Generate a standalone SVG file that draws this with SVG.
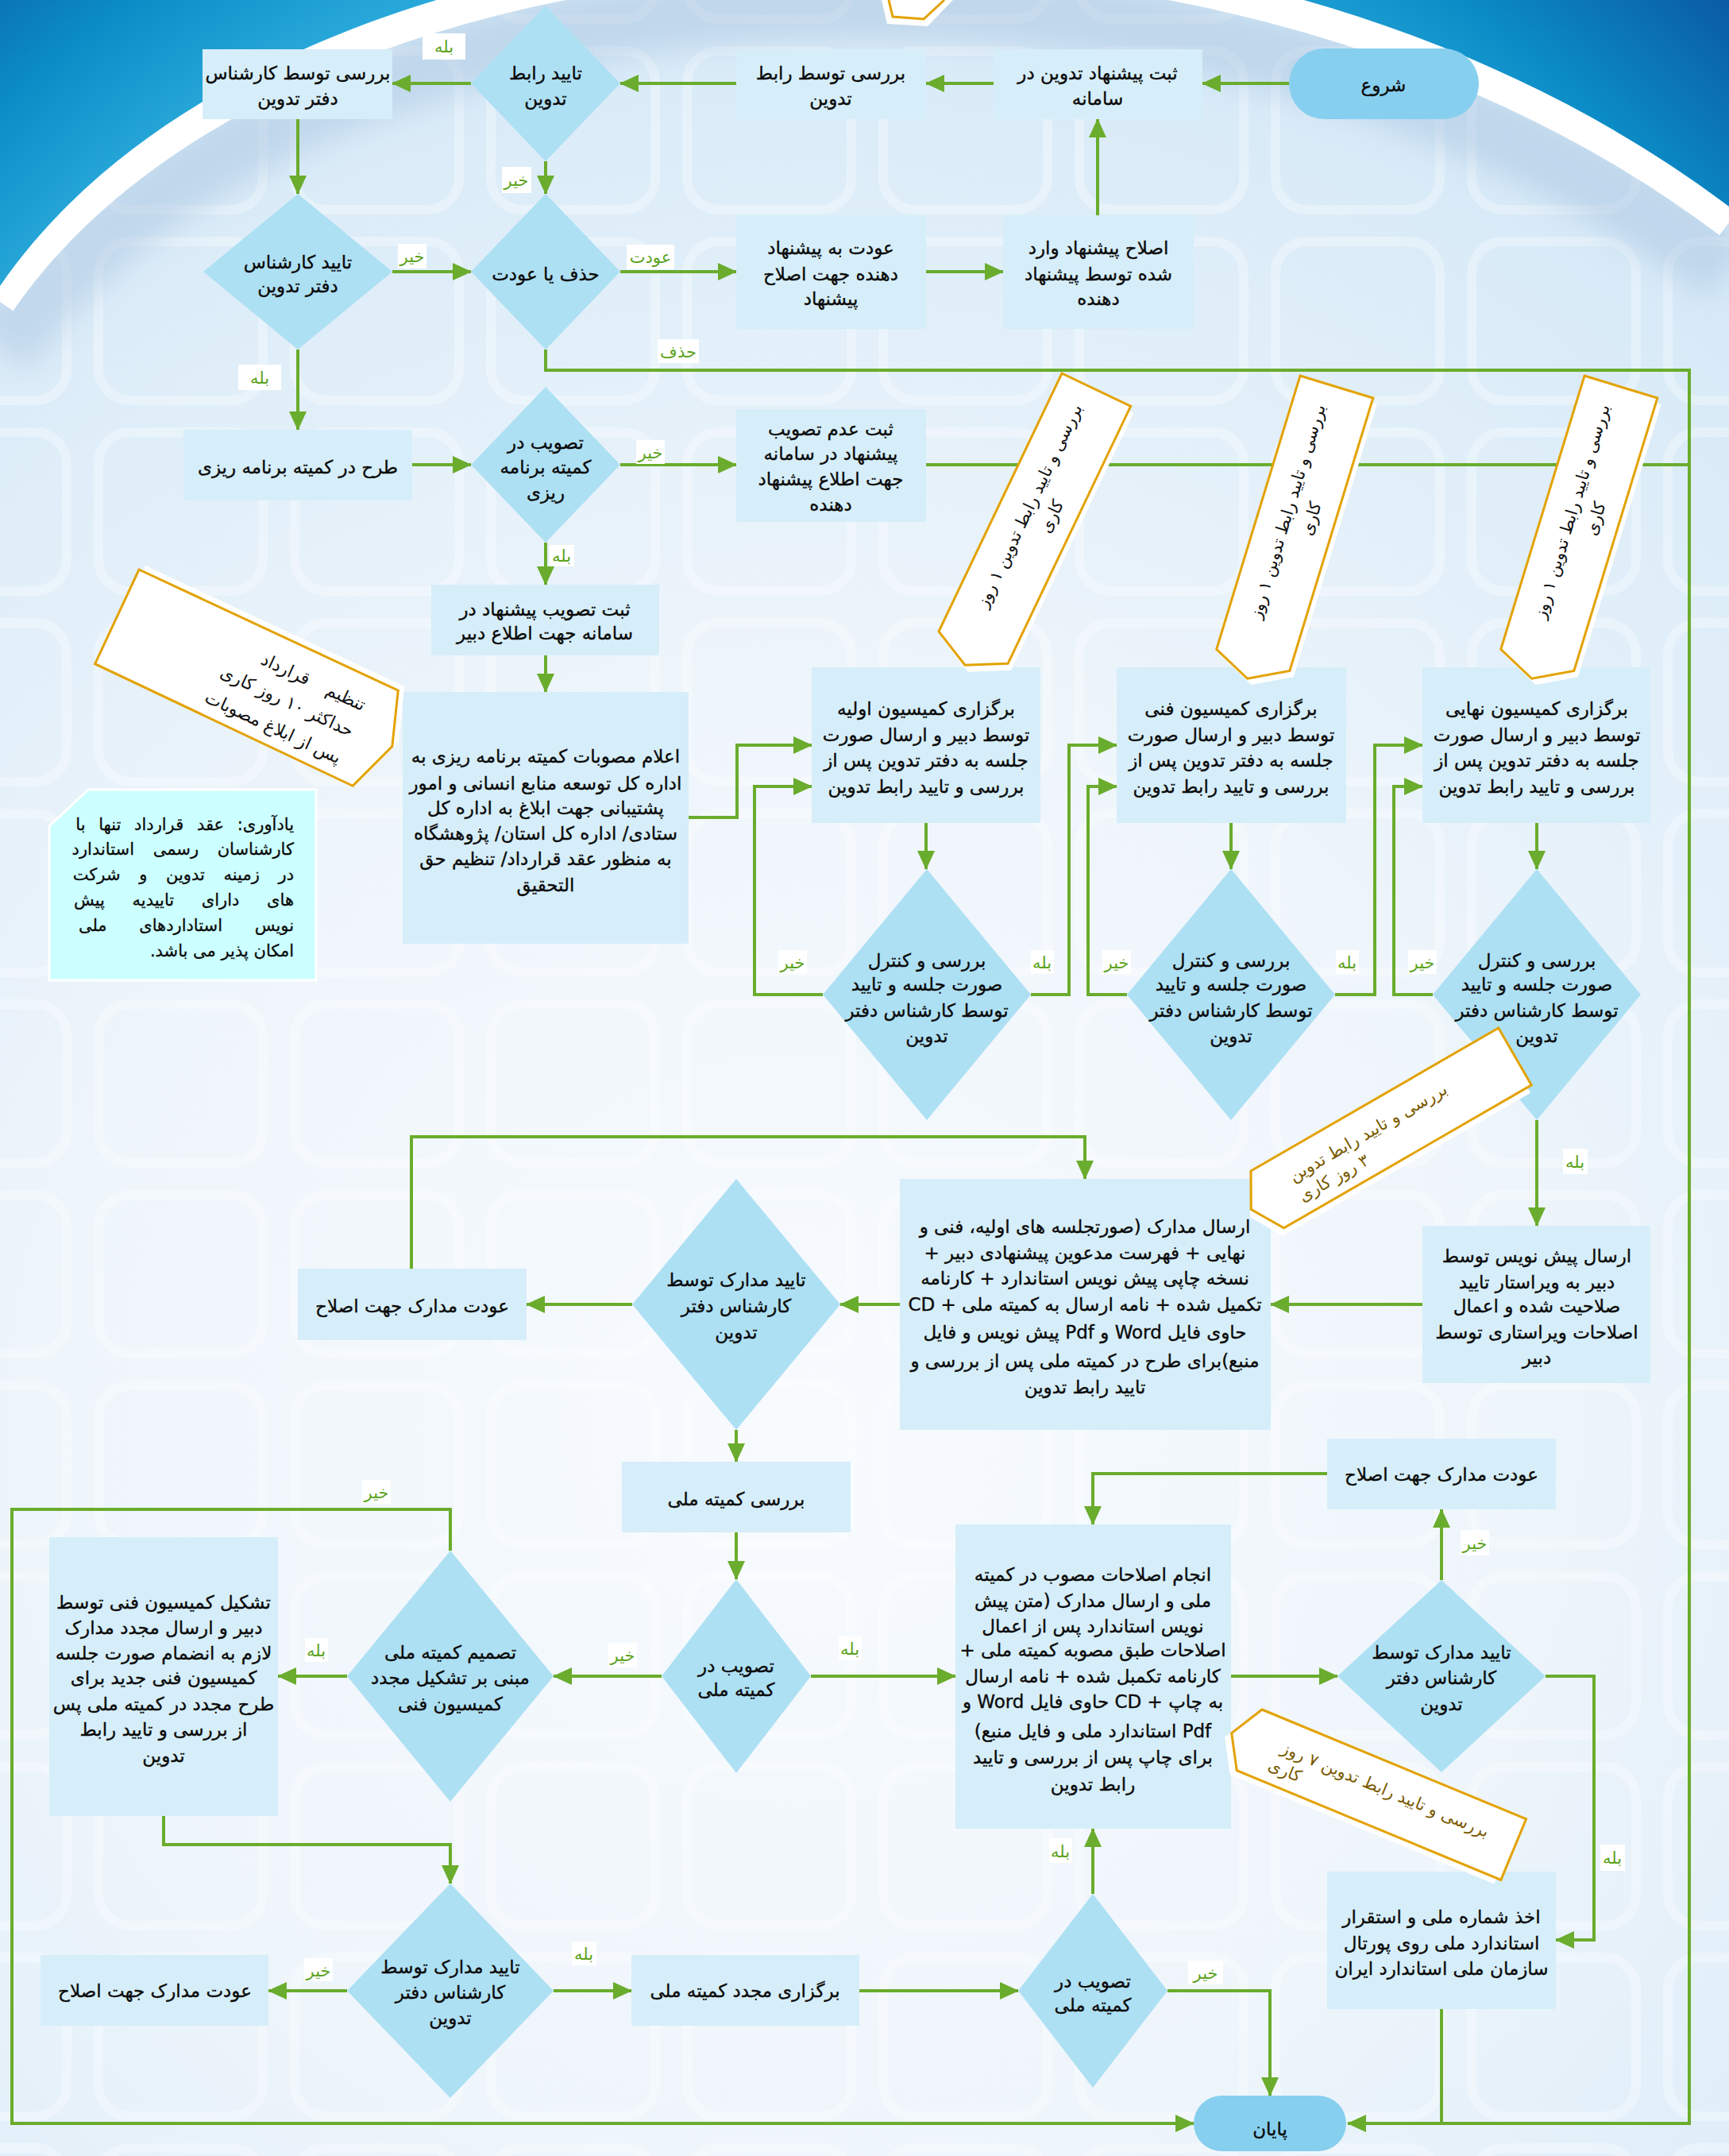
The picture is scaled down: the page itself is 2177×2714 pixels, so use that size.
<svg xmlns="http://www.w3.org/2000/svg" width="2177" height="2714" viewBox="0 0 2177 2714">
<defs>
<style>
.box{fill:#d6eef9}
.dia{fill:#aee0f4}
.pill{fill:#87cfef}
.t{font-family:"DejaVu Sans",sans-serif;font-size:23px;fill:#0a0a0a;stroke:#0a0a0a;stroke-width:0.35;text-anchor:middle;direction:rtl}
.tr{font-family:"DejaVu Sans",sans-serif;font-size:21px;fill:#0a0a0a;stroke:#0a0a0a;stroke-width:0.3;text-anchor:start;direction:rtl}
.conn{fill:none;stroke:#6aac2d;stroke-width:4}
.lb{fill:#ffffff}
.lt{font-family:"DejaVu Sans",sans-serif;font-size:21px;fill:#5aa21c;text-anchor:middle;direction:rtl}
.note{fill:#ffffff;stroke:#e3a202;stroke-width:3}
.shadow{fill:#ffffff}
.nt{font-family:"DejaVu Sans",sans-serif;font-size:21px;fill:#111;text-anchor:middle;direction:rtl}
.ng{font-family:"DejaVu Sans",sans-serif;font-size:21px;fill:#7a5a00;text-anchor:middle;direction:rtl}
.nr{font-family:"DejaVu Sans",sans-serif;font-size:22px;fill:#111;text-anchor:start;direction:rtl}
</style>
<radialGradient id="bgG" cx="1000" cy="1800" r="1900" gradientUnits="userSpaceOnUse">
<stop offset="0" stop-color="#f8fbfe"/>
<stop offset="0.5" stop-color="#eef5fb"/>
<stop offset="1" stop-color="#d5e9f7"/>
</radialGradient>
<radialGradient id="blueG" cx="1000" cy="1200" r="1700" gradientUnits="userSpaceOnUse">
<stop offset="0.75" stop-color="#2aaadb"/>
<stop offset="0.86" stop-color="#0b8cc6"/>
<stop offset="1" stop-color="#0a56a2"/>
</radialGradient>
<pattern id="grid" x="104" y="44" width="247" height="240" patternUnits="userSpaceOnUse">
<rect x="20" y="20" width="207" height="200" rx="40" fill="none" stroke="#ffffff" stroke-width="12" opacity="0.3"/>
</pattern>
<filter id="blur" x="-0.2" y="-0.5" width="1.4" height="2"><feGaussianBlur stdDeviation="18"/></filter>
<marker id="ah" viewBox="0 0 24 22" refX="23" refY="11" markerWidth="24" markerHeight="22" markerUnits="userSpaceOnUse" orient="auto"><path d="M0,0 L24,11 L0,22 Z" fill="#6aac2d"/></marker>
</defs>

<g id="background">
<rect x="0" y="0" width="2177" height="2714" fill="url(#bgG)"/>
<rect x="0" y="0" width="2177" height="2714" fill="url(#grid)"/>
<path d="M0,360 C350,-150 1500,-250 2177,260" transform="translate(0,80)" fill="none" stroke="#a9c4e0" stroke-width="90" opacity="0.5" filter="url(#blur)"/>
<path d="M0,360 C350,-150 1500,-250 2177,260" transform="translate(0,20)" fill="none" stroke="#ffffff" stroke-width="40"/>
<path d="M0,0 L0,360 C350,-150 1500,-250 2177,260 L2177,0 Z" fill="url(#blueG)"/>
</g>

<g id="connectors" class="conn">
<path d="M1623,105 H1514" marker-end="url(#ah)"/>
<path d="M1251,105 H1166" marker-end="url(#ah)"/>
<path d="M927,105 H781" marker-end="url(#ah)"/>
<path d="M593,105 H494" marker-end="url(#ah)"/>
<path d="M687,203 V244" marker-end="url(#ah)"/>
<path d="M375,150 V244" marker-end="url(#ah)"/>
<path d="M494,342 H593" marker-end="url(#ah)"/>
<path d="M781,342 H927" marker-end="url(#ah)"/>
<path d="M1166,342 H1263" marker-end="url(#ah)"/>
<path d="M1382,271 V150" marker-end="url(#ah)"/>
<path d="M687,440 V466 H2127 V2673 H1697" marker-end="url(#ah)"/>
<path d="M375,440 V541" marker-end="url(#ah)"/>
<path d="M519,585 H593" marker-end="url(#ah)"/>
<path d="M781,585 H927" marker-end="url(#ah)"/>
<path d="M1166,585 H2127"/>
<path d="M687,683 V736" marker-end="url(#ah)"/>
<path d="M687,825 V871" marker-end="url(#ah)"/>
<path d="M867,1029 H928 V938 H1022" marker-end="url(#ah)"/>
<path d="M1166,1036 V1094" marker-end="url(#ah)"/>
<path d="M1036,1252 H950 V990 H1022" marker-end="url(#ah)"/>
<path d="M1298,1252 H1346 V938 H1406" marker-end="url(#ah)"/>
<path d="M1550,1036 V1094" marker-end="url(#ah)"/>
<path d="M1419,1252 H1370 V990 H1406" marker-end="url(#ah)"/>
<path d="M1681,1252 H1731 V938 H1791" marker-end="url(#ah)"/>
<path d="M1935,1036 V1094" marker-end="url(#ah)"/>
<path d="M1804,1252 H1755 V990 H1791" marker-end="url(#ah)"/>
<path d="M1935,1410 V1543" marker-end="url(#ah)"/>
<path d="M1791,1642 H1600" marker-end="url(#ah)"/>
<path d="M1133,1642 H1058" marker-end="url(#ah)"/>
<path d="M796,1642 H663" marker-end="url(#ah)"/>
<path d="M518,1597 V1431 H1366 V1484" marker-end="url(#ah)"/>
<path d="M927,1800 V1840" marker-end="url(#ah)"/>
<path d="M927,1929 V1988" marker-end="url(#ah)"/>
<path d="M833,2110 H697" marker-end="url(#ah)"/>
<path d="M1021,2110 H1203" marker-end="url(#ah)"/>
<path d="M437,2110 H350" marker-end="url(#ah)"/>
<path d="M567,1952 V1900 H15 V2673 H1503" marker-end="url(#ah)"/>
<path d="M206,2286 V2322 H567 V2371" marker-end="url(#ah)"/>
<path d="M437,2506 H338" marker-end="url(#ah)"/>
<path d="M697,2506 H795" marker-end="url(#ah)"/>
<path d="M1082,2506 H1282" marker-end="url(#ah)"/>
<path d="M1376,2384 V2302" marker-end="url(#ah)"/>
<path d="M1470,2506 H1599 V2638" marker-end="url(#ah)"/>
<path d="M1550,2110 H1684" marker-end="url(#ah)"/>
<path d="M1815,1989 V1900" marker-end="url(#ah)"/>
<path d="M1946,2110 H2007 V2442 H1959" marker-end="url(#ah)"/>
<path d="M1815,2529 V2673"/>
<path d="M1671,1855 H1376 V1919" marker-end="url(#ah)"/>
</g>

<g id="labels">
<rect class="lb" x="532" y="42" width="54" height="33"/><text class="lt" x="559" y="66">بله</text>
<rect class="lb" x="632" y="210" width="37" height="33"/><text class="lt" x="650" y="234">خیر</text>
<rect class="lb" x="501" y="307" width="36" height="31"/><text class="lt" x="519" y="330">خیر</text>
<rect class="lb" x="789" y="308" width="60" height="31"/><text class="lt" x="819" y="331">عودت</text>
<rect class="lb" x="828" y="427" width="52" height="30"/><text class="lt" x="854" y="450">حذف</text>
<rect class="lb" x="300" y="459" width="54" height="32"/><text class="lt" x="327" y="483">بله</text>
<rect class="lb" x="801" y="554" width="36" height="30"/><text class="lt" x="819" y="577">خیر</text>
<rect class="lb" x="692" y="686" width="31" height="27"/><text class="lt" x="707" y="707">بله</text>
<rect class="lb" x="980" y="1196" width="36" height="30"/><text class="lt" x="998" y="1219">خیر</text>
<rect class="lb" x="1298" y="1196" width="29" height="30"/><text class="lt" x="1312" y="1219">بله</text>
<rect class="lb" x="1388" y="1196" width="36" height="30"/><text class="lt" x="1406" y="1219">خیر</text>
<rect class="lb" x="1682" y="1196" width="29" height="30"/><text class="lt" x="1696" y="1219">بله</text>
<rect class="lb" x="1773" y="1196" width="36" height="30"/><text class="lt" x="1791" y="1219">خیر</text>
<rect class="lb" x="1968" y="1446" width="31" height="32"/><text class="lt" x="1983" y="1470">بله</text>
<rect class="lb" x="456" y="1863" width="36" height="30"/><text class="lt" x="474" y="1886">خیر</text>
<rect class="lb" x="384" y="2062" width="29" height="30"/><text class="lt" x="398" y="2085">بله</text>
<rect class="lb" x="766" y="2068" width="36" height="31"/><text class="lt" x="784" y="2091">خیر</text>
<rect class="lb" x="1056" y="2060" width="29" height="30"/><text class="lt" x="1070" y="2083">بله</text>
<rect class="lb" x="1839" y="1926" width="36" height="32"/><text class="lt" x="1857" y="1950">خیر</text>
<rect class="lb" x="2015" y="2322" width="31" height="33"/><text class="lt" x="2030" y="2346">بله</text>
<rect class="lb" x="383" y="2465" width="36" height="29"/><text class="lt" x="401" y="2488">خیر</text>
<rect class="lb" x="720" y="2444" width="31" height="30"/><text class="lt" x="735" y="2467">بله</text>
<rect class="lb" x="1321" y="2314" width="29" height="31"/><text class="lt" x="1335" y="2338">بله</text>
<rect class="lb" x="1496" y="2468" width="44" height="30"/><text class="lt" x="1518" y="2491">خیر</text>
</g>

<g id="start"><rect class="pill" x="1623" y="61" width="239" height="89" rx="44.5"/><text class="t" x="1742" y="115">شروع</text></g>
<g id="n_sabt"><rect class="box" x="1251" y="62" width="263" height="88"/><text class="t" x="1382" y="100">ثبت پیشنهاد تدوین در</text><text class="t" x="1382" y="132">سامانه</text></g>
<g id="n_rabet"><rect class="box" x="927" y="62" width="239" height="88"/><text class="t" x="1046" y="100">بررسی توسط رابط</text><text class="t" x="1046" y="132">تدوین</text></g>
<g id="d_rabet"><polygon class="dia" points="687,7 781,105 687,203 593,105"/><text class="t" x="687" y="100">تایید رابط</text><text class="t" x="687" y="132">تدوین</text></g>
<g id="n_karshenas"><rect class="box" x="255" y="62" width="239" height="88"/><text class="t" x="375" y="100">بررسی توسط کارشناس</text><text class="t" x="375" y="132">دفتر تدوین</text></g>
<g id="d_karshenas"><polygon class="dia" points="375,244 494,342 375,440 256,342"/><text class="t" x="375" y="338">تایید کارشناس</text><text class="t" x="375" y="368">دفتر تدوین</text></g>
<g id="d_hazf"><polygon class="dia" points="687,244 781,342 687,440 593,342"/><text class="t" x="687" y="353">حذف یا عودت</text></g>
<g id="n_odat"><rect class="box" x="927" y="271" width="239" height="143"/><text class="t" x="1046" y="320">عودت به پیشنهاد</text><text class="t" x="1046" y="353">دهنده جهت اصلاح</text><text class="t" x="1046" y="384">پیشنهاد</text></g>
<g id="n_eslah"><rect class="box" x="1263" y="271" width="240" height="143"/><text class="t" x="1383" y="320">اصلاح پیشنهاد وارد</text><text class="t" x="1383" y="353">شده توسط پیشنهاد</text><text class="t" x="1383" y="384">دهنده</text></g>
<g id="n_tarh"><rect class="box" x="231" y="541" width="288" height="89"/><text class="t" x="375" y="596">طرح در کمیته برنامه ریزی</text></g>
<g id="d_tasvib_br"><polygon class="dia" points="687,487 781,585 687,683 593,585"/><text class="t" x="687" y="565">تصویب در</text><text class="t" x="687" y="596">کمیته برنامه</text><text class="t" x="687" y="628">ریزی</text></g>
<g id="n_adam"><rect class="box" x="927" y="515" width="239" height="142"/><text class="t" x="1046" y="548">ثبت عدم تصویب</text><text class="t" x="1046" y="579">پیشنهاد در سامانه</text><text class="t" x="1046" y="611">جهت اطلاع پیشنهاد</text><text class="t" x="1046" y="643">دهنده</text></g>
<g id="n_sabt_tasvib"><rect class="box" x="543" y="736" width="287" height="89"/><text class="t" x="686" y="775">ثبت تصویب پیشنهاد در</text><text class="t" x="686" y="805">سامانه جهت اطلاع دبیر</text></g>
<g id="n_elam"><rect class="box" x="507" y="871" width="360" height="317"/>
<text class="t" x="687" y="960">اعلام مصوبات کمیته برنامه ریزی به</text>
<text class="t" x="687" y="994">اداره کل توسعه منابع انسانی و امور</text>
<text class="t" x="687" y="1025">پشتیبانی جهت ابلاغ به اداره کل</text>
<text class="t" x="687" y="1057">ستادی/ اداره کل استان/ پژوهشگاه</text>
<text class="t" x="687" y="1089">به منظور عقد قرارداد/ تنظیم حق</text>
<text class="t" x="687" y="1122">التحقیق</text></g>
<g id="n_com1"><rect class="box" x="1022" y="840" width="288" height="196"/><text class="t" x="1166" y="900">برگزاری کمیسیون اولیه</text><text class="t" x="1166" y="933">توسط دبیر و ارسال صورت</text><text class="t" x="1166" y="965">جلسه به دفتر تدوین پس از</text><text class="t" x="1166" y="998">بررسی و تایید رابط تدوین</text></g>
<g id="n_com2"><rect class="box" x="1406" y="840" width="289" height="196"/><text class="t" x="1550" y="900">برگزاری کمیسیون فنی</text><text class="t" x="1550" y="933">توسط دبیر و ارسال صورت</text><text class="t" x="1550" y="965">جلسه به دفتر تدوین پس از</text><text class="t" x="1550" y="998">بررسی و تایید رابط تدوین</text></g>
<g id="n_com3"><rect class="box" x="1791" y="840" width="287" height="196"/><text class="t" x="1935" y="900">برگزاری کمیسیون نهایی</text><text class="t" x="1935" y="933">توسط دبیر و ارسال صورت</text><text class="t" x="1935" y="965">جلسه به دفتر تدوین پس از</text><text class="t" x="1935" y="998">بررسی و تایید رابط تدوین</text></g>
<g id="d_ctrl1"><polygon class="dia" points="1167,1094 1298,1252 1167,1410 1036,1252"/><text class="t" x="1167" y="1217">بررسی و کنترل</text><text class="t" x="1167" y="1247">صورت جلسه و تایید</text><text class="t" x="1167" y="1280">توسط کارشناس دفتر</text><text class="t" x="1167" y="1312">تدوین</text></g>
<g id="d_ctrl2"><polygon class="dia" points="1550,1094 1681,1252 1550,1410 1419,1252"/><text class="t" x="1550" y="1217">بررسی و کنترل</text><text class="t" x="1550" y="1247">صورت جلسه و تایید</text><text class="t" x="1550" y="1280">توسط کارشناس دفتر</text><text class="t" x="1550" y="1312">تدوین</text></g>
<g id="d_ctrl3"><polygon class="dia" points="1935,1094 2066,1252 1935,1410 1804,1252"/><text class="t" x="1935" y="1217">بررسی و کنترل</text><text class="t" x="1935" y="1247">صورت جلسه و تایید</text><text class="t" x="1935" y="1280">توسط کارشناس دفتر</text><text class="t" x="1935" y="1312">تدوین</text></g>
<g id="n_virast"><rect class="box" x="1791" y="1543" width="287" height="198"/><text class="t" x="1935" y="1589">ارسال پیش نویس توسط</text><text class="t" x="1935" y="1622">دبیر به ویراستار تایید</text><text class="t" x="1935" y="1652">صلاحیت شده و اعمال</text><text class="t" x="1935" y="1685">اصلاحات ویراستاری توسط</text><text class="t" x="1935" y="1717">دبیر</text></g>
<g id="n_madarek"><rect class="box" x="1133" y="1484" width="467" height="316"/>
<text class="t" x="1366" y="1552">ارسال مدارک (صورتجلسه های اولیه، فنی و</text>
<text class="t" x="1366" y="1585">نهایی + فهرست مدعوین پیشنهادی دبیر +</text>
<text class="t" x="1366" y="1617">نسخه چاپی پیش نویس استاندارد + کارنامه</text>
<text class="t" x="1366" y="1650">تکمیل شده + نامه ارسال به کمیته ملی + CD</text>
<text class="t" x="1366" y="1685">حاوی فایل Word و Pdf پیش نویس و فایل</text>
<text class="t" x="1366" y="1721">منبع)برای طرح در کمیته ملی پس از بررسی و</text>
<text class="t" x="1366" y="1754">تایید رابط تدوین</text></g>
<g id="d_madarek1"><polygon class="dia" points="927,1484 1058,1642 927,1800 796,1642"/><text class="t" x="927" y="1619">تایید مدارک توسط</text><text class="t" x="927" y="1652">کارشناس دفتر</text><text class="t" x="927" y="1685">تدوین</text></g>
<g id="n_odat2"><rect class="box" x="375" y="1597" width="288" height="90"/><text class="t" x="519" y="1652">عودت مدارک جهت اصلاح</text></g>
<g id="n_barresi_meli"><rect class="box" x="783" y="1840" width="288" height="89"/><text class="t" x="927" y="1895">بررسی کمیته ملی</text></g>
<g id="d_tasvib_meli1"><polygon class="dia" points="927,1988 1021,2110 927,2232 833,2110"/><text class="t" x="927" y="2105">تصویب در</text><text class="t" x="927" y="2135">کمیته ملی</text></g>
<g id="d_tasmim"><polygon class="dia" points="567,1952 697,2110 567,2268 437,2110"/><text class="t" x="567" y="2088">تصمیم کمیته ملی</text><text class="t" x="567" y="2120">مبنی بر تشکیل مجدد</text><text class="t" x="567" y="2153">کمیسیون فنی</text></g>
<g id="n_tashkil"><rect class="box" x="62" y="1935" width="288" height="351"/>
<text class="t" x="206" y="2025">تشکیل کمیسیون فنی توسط</text>
<text class="t" x="206" y="2057">دبیر و ارسال مجدد مدارک</text>
<text class="t" x="206" y="2089">لازم به انضمام صورت جلسه</text>
<text class="t" x="206" y="2120">کمیسیون فنی جدید برای</text>
<text class="t" x="206" y="2153">طرح مجدد در کمیته ملی پس</text>
<text class="t" x="206" y="2185">از بررسی و تایید رابط</text>
<text class="t" x="206" y="2218">تدوین</text></g>
<g id="n_anjam"><rect class="box" x="1203" y="1919" width="347" height="383"/>
<text class="t" x="1376" y="1990">انجام اصلاحات مصوب در کمیته</text>
<text class="t" x="1376" y="2023">ملی و ارسال مدارک (متن پیش</text>
<text class="t" x="1376" y="2055">نویس استاندارد پس از اعمال</text>
<text class="t" x="1376" y="2085">اصلاحات طبق مصوبه کمیته ملی +</text>
<text class="t" x="1376" y="2118">کارنامه تکمبل شده + نامه ارسال</text>
<text class="t" x="1376" y="2150">به چاپ + CD حاوی فایل Word و</text>
<text class="t" x="1376" y="2187">Pdf استاندارد ملی و فایل منبع)</text>
<text class="t" x="1376" y="2220">برای چاپ پس از بررسی و تایید</text>
<text class="t" x="1376" y="2254">رابط تدوین</text></g>
<g id="n_odat3"><rect class="box" x="1671" y="1811" width="288" height="89"/><text class="t" x="1815" y="1864">عودت مدارک جهت اصلاح</text></g>
<g id="d_madarek2"><polygon class="dia" points="1815,1989 1946,2110 1815,2231 1684,2110"/><text class="t" x="1815" y="2088">تایید مدارک توسط</text><text class="t" x="1815" y="2120">کارشناس دفتر</text><text class="t" x="1815" y="2153">تدوین</text></g>
<g id="n_akhz"><rect class="box" x="1671" y="2356" width="288" height="173"/><text class="t" x="1815" y="2421">اخذ شماره ملی و استقرار</text><text class="t" x="1815" y="2454">استاندارد ملی روی پورتال</text><text class="t" x="1815" y="2486">سازمان ملی استاندارد ایران</text></g>
<g id="d_madarek3"><polygon class="dia" points="567,2371 697,2506 567,2641 437,2506"/><text class="t" x="567" y="2484">تایید مدارک توسط</text><text class="t" x="567" y="2516">کارشناس دفتر</text><text class="t" x="567" y="2548">تدوین</text></g>
<g id="n_odat4"><rect class="box" x="51" y="2461" width="287" height="89"/><text class="t" x="195" y="2514">عودت مدارک جهت اصلاح</text></g>
<g id="n_mojadad"><rect class="box" x="795" y="2461" width="287" height="89"/><text class="t" x="938" y="2514">برگزاری مجدد کمیته ملی</text></g>
<g id="d_tasvib_meli2"><polygon class="dia" points="1376,2384 1470,2506 1376,2628 1282,2506"/><text class="t" x="1376" y="2502">تصویب در</text><text class="t" x="1376" y="2532">کمیته ملی</text></g>
<g id="end"><rect class="pill" x="1503" y="2638" width="192" height="70" rx="35"/><text class="t" x="1599" y="2688">پایان</text></g>

<g id="yadavari">
<polygon points="111,994 398,994 398,1234 62,1234 62,1040" fill="#ccffff" stroke="#ffffff" stroke-width="3"/>
<text class="tr" x="370" y="1045" word-spacing="10">یادآوری: عقد قرارداد تنها با</text>
<text class="tr" x="370" y="1076" word-spacing="17">کارشناسان رسمی استاندارد</text>
<text class="tr" x="370" y="1108" word-spacing="17">در زمینه تدوین و شرکت</text>
<text class="tr" x="370" y="1140" word-spacing="28">های دارای تاییدیه پیش</text>
<text class="tr" x="370" y="1172" word-spacing="34">نویس استادارد‌های ملی</text>
<text class="tr" x="370" y="1204">امکان پذیر می باشد.</text>
</g>

<g id="notes">
<g id="note_top">
<polygon class="shadow" points="1110,0 1117,30 1168,33 1200,0"/>
<polyline points="1119,0 1124,21 1163,24 1189,0" fill="none" stroke="#e3a202" stroke-width="3"/>
</g>
<g id="note_tanzim" transform="translate(175,717) rotate(25)">
<polygon class="shadow" transform="translate(5,-8)" points="0,0 360,0 383,67 359,133 0,131"/>
<polygon class="note" points="0,0 360,0 383,67 359,133 0,131"/>
<text class="nr" x="330" y="43" word-spacing="18">تنظیم قرارداد</text>
<text class="nr" x="330" y="79">حداکثر ۱۰ روز کاری</text>
<text class="nr" x="330" y="116">پس از ابلاغ مصوبات</text>
</g>
<g id="note_1" transform="translate(1337,470) rotate(25.5)">
<polygon class="shadow" transform="translate(7,6)" points="0,0 96,0 96,359 48,384 0,360"/>
<polygon class="note" points="0,0 96,0 96,359 48,384 0,360"/>
<text class="nt" transform="translate(42,168) rotate(-90)">بررسی و تایید رابط تدوین ۱ روز</text>
<text class="nt" transform="translate(73,168) rotate(-90)">کاری</text>
</g>
<g id="note_2" transform="translate(1637,473) rotate(17)">
<polygon class="shadow" transform="translate(7,6)" points="0,0 96,0 96,359 48,384 0,360"/>
<polygon class="note" points="0,0 96,0 96,359 48,384 0,360"/>
<text class="nt" transform="translate(42,168) rotate(-90)">بررسی و تایید رابط تدوین ۱ روز</text>
<text class="nt" transform="translate(73,168) rotate(-90)">کاری</text>
</g>
<g id="note_3" transform="translate(1995,473) rotate(17)">
<polygon class="shadow" transform="translate(7,6)" points="0,0 96,0 96,359 48,384 0,360"/>
<polygon class="note" points="0,0 96,0 96,359 48,384 0,360"/>
<text class="nt" transform="translate(42,168) rotate(-90)">بررسی و تایید رابط تدوین ۱ روز</text>
<text class="nt" transform="translate(73,168) rotate(-90)">کاری</text>
</g>
<g id="note_3day" transform="translate(1575,1474) rotate(-30)">
<polygon class="shadow" transform="translate(-6,8)" points="0,0 360,0 360,83 0,83 -24,42"/>
<polygon class="note" points="0,0 360,0 360,83 0,83 -24,42"/>
<text class="ng" x="152" y="39">بررسی و تایید رابط تدوین</text>
<text class="ng" x="86" y="67">۳ روز کاری</text>
</g>
<g id="note_7day" transform="translate(1589,2152) rotate(22.5)">
<polygon class="shadow" transform="translate(-6,8)" points="0,0 360,0 360,83 0,83 -24,42"/>
<polygon class="note" points="0,0 360,0 360,83 0,83 -24,42"/>
<text class="ng" x="182" y="41">بررسی و تایید رابط تدوین ۷ روز</text>
<text class="ng" x="56" y="67">کاری</text>
</g>
</g>
</svg>
